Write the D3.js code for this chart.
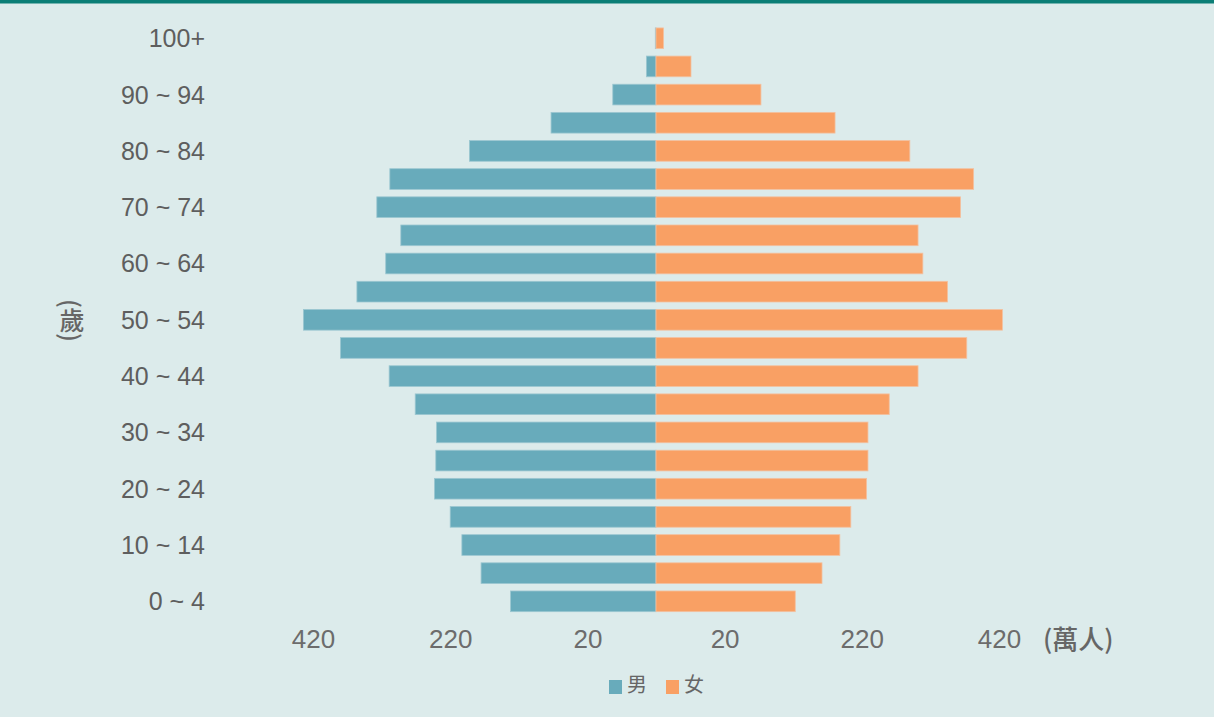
<!DOCTYPE html>
<html>
<head>
<meta charset="utf-8">
<script src="https://cdn.jsdelivr.net/npm/d3@7"></script>
<style>
    html, body { margin: 0; padding: 0; background: #dcebeb; }
    svg { display: block; font-family: "Liberation Sans", Arial, "Noto Sans CJK TC", sans-serif; }
</style>
</head>
<body>
<script>
/*Chart data (bottom age group first)*/
var ageGroups = ["0 ~ 4", "5 ~ 9", "10 ~ 14", "15 ~ 19", "20 ~ 24", "25 ~ 29", "30 ~ 34",
    "35 ~ 39", "40 ~ 44", "45 ~ 49", "50 ~ 54", "55 ~ 59", "60 ~ 64", "65 ~ 69",
    "70 ~ 74", "75 ~ 79", "80 ~ 84", "85 ~ 89", "90 ~ 94", "95 ~ 99", "100+"];
var maleValues = [212, 255, 283, 300, 323, 321, 320, 351, 389, 460, 514,
    436, 394, 372, 407, 388, 272, 153, 63, 14, 1];
var femaleValues = [203, 242, 268, 284, 307, 309, 309, 340, 382, 453, 505,
    425, 389, 382, 444, 463, 370, 261, 153, 51, 11];
var tickValues = [100, 300, 500];
var tickLabels = ["20", "220", "420"];
var seriesNames = ["男", "女"];

var width = 1214,
    height = 717,
    centerX = 656,
    halfWidth = 343;

var colors = { male: "#68abbb", female: "#f9a064" };

var svg = d3.select("body").append("svg")
    .attr("width", width)
    .attr("height", height);

svg.append("rect")
    .attr("width", width)
    .attr("height", height)
    .attr("fill", "#dcebeb");

/*Top teal border*/
svg.append("rect")
    .attr("width", width)
    .attr("height", 3.5)
    .attr("fill", "#0b7e76");

/*Scales: one for each side of the pyramid*/
var xLeft = d3.scaleLinear().domain([0, 500]).range([centerX, centerX - halfWidth]);
var xRight = d3.scaleLinear().domain([0, 500]).range([centerX, centerX + halfWidth]);

var y = d3.scaleBand()
    .domain(ageGroups.slice().reverse())
    .range([24.2, 615.4])
    .paddingInner(0.265)
    .paddingOuter(0.1325);

var rows = ageGroups.map(function(d, i) {
    return { age: d, male: maleValues[i], female: femaleValues[i] };
});

/*Male bars*/
svg.append("g").selectAll("rect")
    .data(rows)
    .enter().append("rect")
    .attr("x", function(d) { return xLeft(d.male) })
    .attr("y", function(d) { return y(d.age) })
    .attr("width", function(d) { return xLeft(0) - xLeft(d.male) })
    .attr("height", y.bandwidth())
    .attr("fill", colors.male)
    .attr("stroke", "#9cc7d1")
    .attr("stroke-width", 0.8);

/*Female bars*/
svg.append("g").selectAll("rect")
    .data(rows)
    .enter().append("rect")
    .attr("x", xRight(0))
    .attr("y", function(d) { return y(d.age) })
    .attr("width", function(d) { return xRight(d.female) - xRight(0) })
    .attr("height", y.bandwidth())
    .attr("fill", colors.female)
    .attr("stroke", "#f3c1a0")
    .attr("stroke-width", 0.8);

/*Age axis, every other group labelled*/
var yAxis = d3.axisLeft(y)
    .tickSize(0)
    .tickPadding(0)
    .tickValues(ageGroups.filter(function(d, i) { return i % 2 == 0 }));

var gy = svg.append("g")
    .attr("transform", "translate(205,1)")
    .call(yAxis);
gy.select(".domain").remove();
gy.selectAll("text")
    .attr("font-size", 25)
    .attr("fill", "#5e5e5e")
    .style("font-family", "Liberation Sans, Arial, sans-serif");

/*Value axes*/
function labelFor(v) { return tickLabels[tickValues.indexOf(v)] }

[xLeft, xRight].forEach(function(scale) {
    var g = svg.append("g")
        .attr("transform", "translate(0,630)")
        .call(d3.axisBottom(scale).tickValues(tickValues).tickFormat(labelFor).tickSize(0).tickPadding(0));
    g.select(".domain").remove();
    g.selectAll("text")
        .attr("font-size", 26)
        .attr("fill", "#6c6c6c")
        .style("font-family", "Liberation Sans, Arial, sans-serif");
});

/*Unit labels*/
svg.append("text")
    .attr("x", 1043)
    .attr("y", 649)
    .attr("font-size", 26)
    .attr("fill", "#666")
    .style("font-family", "Noto Sans CJK TC, sans-serif")
    .style("font-weight", 500)
    .text("(萬人)");

/*Vertical age unit*/
svg.append("text")
    .attr("x", 72)
    .attr("y", 299)
    .attr("font-size", 25)
    .attr("fill", "#666")
    .style("font-family", "Noto Sans CJK TC, sans-serif")
    .style("font-weight", 500)
    .style("writing-mode", "vertical-rl")
    .text("(歲)");

/*Legend*/
var legend = svg.append("g").selectAll("g")
    .data(seriesNames)
    .enter().append("g")
    .attr("transform", function(d, i) { return "translate(" + (609 + i * 57) + ",680)" });

legend.append("rect")
    .attr("width", 13)
    .attr("height", 14)
    .attr("fill", function(d, i) { return i == 0 ? colors.male : colors.female });

legend.append("text")
    .attr("x", 18)
    .attr("y", 12)
    .attr("font-size", 20)
    .attr("fill", "#666")
    .style("font-family", "Noto Sans CJK TC, sans-serif")
    .text(function(d) { return d });
</script>
</body>
</html>
